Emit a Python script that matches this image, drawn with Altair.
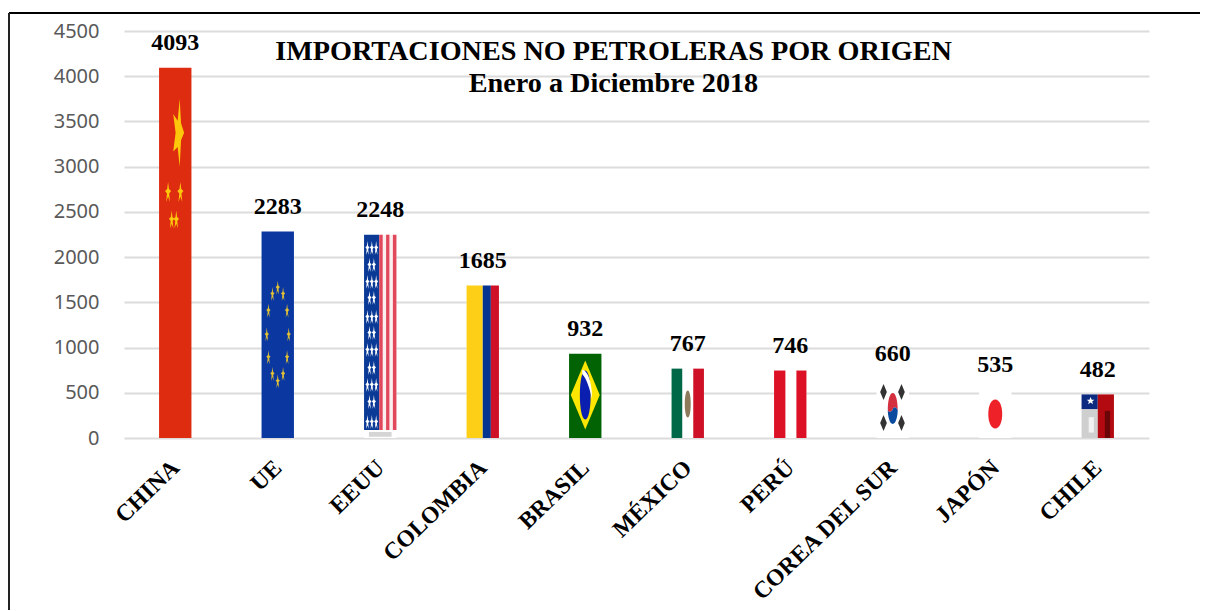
import altair as alt
import pandas as pd

CATEGORIES = ["CHINA", "UE", "EEUU", "COLOMBIA", "BRASIL", "MÉXICO", "PERÚ", "COREA DEL SUR", "JAPÓN", "CHILE"]
VALUES = [4093, 2283, 2248, 1685, 932, 767, 746, 660, 535, 482]
BASE_COLORS = ["#de2c10", "#0a37a0", "#ffffff", "#ffffff", "#016304", "#ffffff", "#ffffff", "#ffffff", "#ffffff", "#ffffff"]
Y_TICKS = [0, 500, 1000, 1500, 2000, 2500, 3000, 3500, 4000, 4500]
TITLE_LINES = ["IMPORTACIONES NO PETROLERAS POR ORIGEN", "Enero a Diciembre 2018"]

HALF = 0.158  # half bar width, in category units

# stripes: category, left fraction, right fraction, low value, high value, colour
STRIPES = [
    (2, 0.00, 0.47, 88, 2248, "#0a3a96"),
    (2, 0.47, 0.58, 88, 2248, "#e2485c"),
    (2, 0.58, 0.68, 88, 2248, "#fbeef0"),
    (2, 0.68, 0.79, 88, 2248, "#e2485c"),
    (2, 0.79, 0.89, 88, 2248, "#fbeef0"),
    (2, 0.89, 1.00, 88, 2248, "#e2485c"),
    (2, 0.15, 0.85, 15, 65, "#d5d5d5"),
    (3, 0.00, 0.50, 0, 1685, "#fdd017"),
    (3, 0.50, 0.75, 0, 1685, "#04348f"),
    (3, 0.75, 1.00, 0, 1685, "#ce1126"),
    (5, 0.00, 0.33, 0, 767, "#006847"),
    (5, 0.67, 1.00, 0, 767, "#ce1126"),
    (6, 0.00, 0.35, 0, 746, "#dc1125"),
    (6, 0.69, 1.00, 0, 746, "#dc1125"),
    (9, 0.00, 0.50, 0, 320, "#cfcfcf"),
    (9, 0.22, 0.38, 60, 230, "#f2f2f2"),
    (9, 0.00, 0.50, 320, 482, "#0c2a80"),
    (9, 0.50, 1.00, 0, 482, "#b20a10"),
    (9, 0.72, 0.88, 0, 300, "#6a0508"),
]

ELLIPSE = "M0,-1 C{a},-1 {b},-0.55 {b},0 C{b},0.55 {a},1 0,1 C-{a},1 -{b},0.55 -{b},0 C-{b},-0.55 -{a},-1 0,-1 Z"
THIN_STAR = "M0,-1 L0.09,-0.3 L0.3,-0.1 L0.11,0.15 L0.19,1 L0,0.45 L-0.19,1 L-0.11,0.15 L-0.3,-0.1 L-0.09,-0.3 Z"
BIG_STAR = "M0.04,-1 L0.08,-0.28 L0.17,0 L0.08,0.22 L0.04,1 L-0.02,0.42 L-0.15,0.55 L-0.08,0 L-0.15,-0.55 L-0.02,-0.35 Z"
WIDE_STAR = "M0,-1 L0.28,-0.32 L0.95,-0.3 L0.42,0.12 L0.6,0.85 L0,0.42 L-0.6,0.85 L-0.42,0.12 L-0.95,-0.3 L-0.28,-0.32 Z"
DIAMOND = "M0,-1 L0.42,0 L0,1 L-0.42,0 Z"
CRESCENT = "M-0.3,-1 C0.05,-0.95 0.36,-0.2 0.36,1 C0.2,0.25 -0.03,-0.45 -0.3,-0.7 Z"
SLIM = "M0,-1 L0.42,0 L0,1 L-0.42,0 Z"
el = lambda w: ELLIPSE.format(a=round(w * 0.62, 3), b=w)
HALF_TOP = "M-0.32,0.1 C-0.32,-0.5 -0.2,-1 0,-1 C0.2,-1 0.32,-0.5 0.32,0.1 C0.2,-0.15 0.05,-0.1 0,0.05 C-0.1,0.25 -0.25,0.3 -0.32,0.1 Z"
HALF_BOT = "M-0.32,0.1 C-0.25,0.3 -0.1,0.25 0,0.05 C0.05,-0.1 0.2,-0.15 0.32,0.1 C0.32,0.5 0.2,1 0,1 C-0.2,1 -0.32,0.5 -0.32,0.1 Z"

# emblems: category, offset from centre, value, shape, pixel height, colour
EMBLEMS = [
    (0, 0.03, 3375, BIG_STAR, 68, "#fdc80c"),
    (0, -0.07, 2720, THIN_STAR, 20, "#fdc80c"),
    (0, 0.05, 2720, THIN_STAR, 20, "#fdc80c"),
    (0, -0.035, 2415, THIN_STAR, 18, "#fdc80c"),
    (0, 0.01, 2415, THIN_STAR, 18, "#fdc80c"),
    (1, 0.00, 1662, THIN_STAR, 14, "#e0c035"),
    (1, -0.052, 1592, THIN_STAR, 14, "#e0c035"),
    (1, 0.052, 1592, THIN_STAR, 14, "#e0c035"),
    (1, -0.091, 1408, THIN_STAR, 14, "#e0c035"),
    (1, 0.091, 1408, THIN_STAR, 14, "#e0c035"),
    (1, -0.107, 1143, THIN_STAR, 14, "#e0c035"),
    (1, 0.107, 1143, THIN_STAR, 14, "#e0c035"),
    (1, -0.091, 892, THIN_STAR, 14, "#e0c035"),
    (1, 0.091, 892, THIN_STAR, 14, "#e0c035"),
    (1, -0.052, 708, THIN_STAR, 14, "#e0c035"),
    (1, 0.052, 708, THIN_STAR, 14, "#e0c035"),
    (1, 0.00, 627, THIN_STAR, 14, "#e0c035"),
    (4, 0.00, 475, DIAMOND, 69, "#fde600"),
    (4, 0.00, 475, el(0.22), 49, "#0a1fb0"),
    (4, 0.015, 590, CRESCENT, 30, "#ffffff"),
    (5, 0.00, 376, el(0.22), 27, "#8c7a5a"),
    (7, 0.00, 326, HALF_TOP, 31, "#d4303f"),
    (7, 0.00, 326, HALF_BOT, 31, "#0a4ba0"),
    (7, -0.09, 508, SLIM, 16, "#333333"),
    (7, 0.085, 508, SLIM, 16, "#333333"),
    (7, -0.09, 165, SLIM, 16, "#333333"),
    (7, 0.085, 165, SLIM, 16, "#333333"),
    (8, 0.00, 265, el(0.48), 29, "#ee2128"),
    (9, -0.07, 410, WIDE_STAR, 8, "#ffffff"),
]

# white stars on the EEUU canton: value of each row and offsets in that row
US_ROWS = [2101, 1913, 1725, 1548, 1338, 1161, 973, 774, 586, 398, 177]
US_THREE = [-0.125, -0.082, -0.04]
US_TWO = [-0.105, -0.062]

for i, v in enumerate(US_ROWS):
    for dx in (US_THREE if i % 2 == 0 else US_TWO):
        EMBLEMS.append((2, dx, v, THIN_STAR, 14, "#ffffff"))

bars = pd.DataFrame({
    "pos": range(len(CATEGORIES)),
    "cat": CATEGORIES,
    "value": VALUES,
    "color": BASE_COLORS,
})
bars["x0"] = bars["pos"] - HALF
bars["x1"] = bars["pos"] + HALF

stripes = pd.DataFrame(STRIPES, columns=["pos", "f0", "f1", "v0", "v1", "color"])
stripes["x0"] = stripes["pos"] - HALF + stripes["f0"] * 2 * HALF
stripes["x1"] = stripes["pos"] - HALF + stripes["f1"] * 2 * HALF

emblems = pd.DataFrame(EMBLEMS, columns=["pos", "dx", "value", "path", "h", "color"])
emblems["x"] = emblems["pos"] + emblems["dx"]
emblems["size"] = emblems["h"] ** 2

label_map = "[" + ",".join(f"'{c}'" for c in CATEGORIES) + "][datum.value]"

x_scale = alt.Scale(domain=[-0.5, 9.5], nice=False, zero=False)
y_scale = alt.Scale(domain=[0, 4500], nice=False)

x_axis = alt.Axis(
    values=list(range(len(CATEGORIES))),
    labelExpr=label_map,
    title=None,
    grid=False,
    ticks=False,
    domain=False,
    labelAngle=-44,
    labelAlign="right",
    labelBaseline="middle",
    labelFont="Liberation Serif",
    labelFontWeight="bold",
    labelFontSize=23.5,
    labelColor="#000000",
    labelPadding=26,
    labelOverlap=False,
    labelLimit=400,
)
y_axis = alt.Axis(
    values=Y_TICKS,
    format="d",
    title=None,
    grid=True,
    gridColor="#dcdcdc",
    gridWidth=2,
    ticks=False,
    domain=False,
    labelFont="Noto Sans",
    labelFontSize=20,
    labelColor="#595959",
    labelPadding=25,
)

base_bars = alt.Chart(bars).mark_bar(stroke=None).encode(
    x=alt.X("x0:Q", scale=x_scale, axis=x_axis),
    x2="x1:Q",
    y=alt.Y("value:Q", scale=y_scale, axis=y_axis),
    y2=alt.Y2(datum=0),
    color=alt.Color("color:N", scale=None),
)

stripe_bars = alt.Chart(stripes).mark_bar(stroke=None).encode(
    x=alt.X("x0:Q", scale=x_scale),
    x2="x1:Q",
    y=alt.Y("v0:Q", scale=y_scale),
    y2="v1:Q",
    color=alt.Color("color:N", scale=None),
)

emblem_marks = alt.Chart(emblems).mark_point(filled=True, opacity=1, strokeWidth=0).encode(
    x=alt.X("x:Q", scale=x_scale),
    y=alt.Y("value:Q", scale=y_scale),
    shape=alt.Shape("path:N", scale=None),
    size=alt.Size("size:Q", scale=None),
    color=alt.Color("color:N", scale=None),
    order=alt.Order("h:Q", sort="descending"),
)

value_labels = alt.Chart(bars).mark_text(
    font="Liberation Serif", fontWeight="bold", fontSize=24, color="#000000", dy=-24.5
).encode(
    x=alt.X("pos:Q", scale=x_scale),
    y=alt.Y("value:Q", scale=y_scale),
    text=alt.Text("value:Q", format="d"),
)

# outer frame: top and left lines running off the picture
frame_top = alt.Chart(pd.DataFrame({"a": [0]})).mark_rule(color="#000000", strokeWidth=2).encode(
    x=alt.value(-115), x2=alt.value(1076), y=alt.value(-18)
)
frame_left = alt.Chart(pd.DataFrame({"a": [0]})).mark_rule(color="#222222", strokeWidth=2).encode(
    x=alt.value(-115), y=alt.value(-18), y2=alt.value(590)
)

chart = alt.layer(
    base_bars, stripe_bars, emblem_marks, value_labels, frame_top, frame_left
).properties(
    width=1025,
    height=407,
    padding={"left": 116, "top": 23, "right": 51, "bottom": 172},
    autosize=alt.AutoSizeParams(type="none"),
    title=alt.TitleParams(
        text=TITLE_LINES,
        font="Liberation Serif",
        fontWeight="bold",
        fontSize=28.2,
        lineHeight=32,
        color="#000000",
        anchor="middle",
        orient="top",
        frame="group",
        dx=-23,
        dy=90,
    ),
).configure_view(stroke=None)

chart.save("out.html", embed_options={"renderer": "svg", "actions": False})
